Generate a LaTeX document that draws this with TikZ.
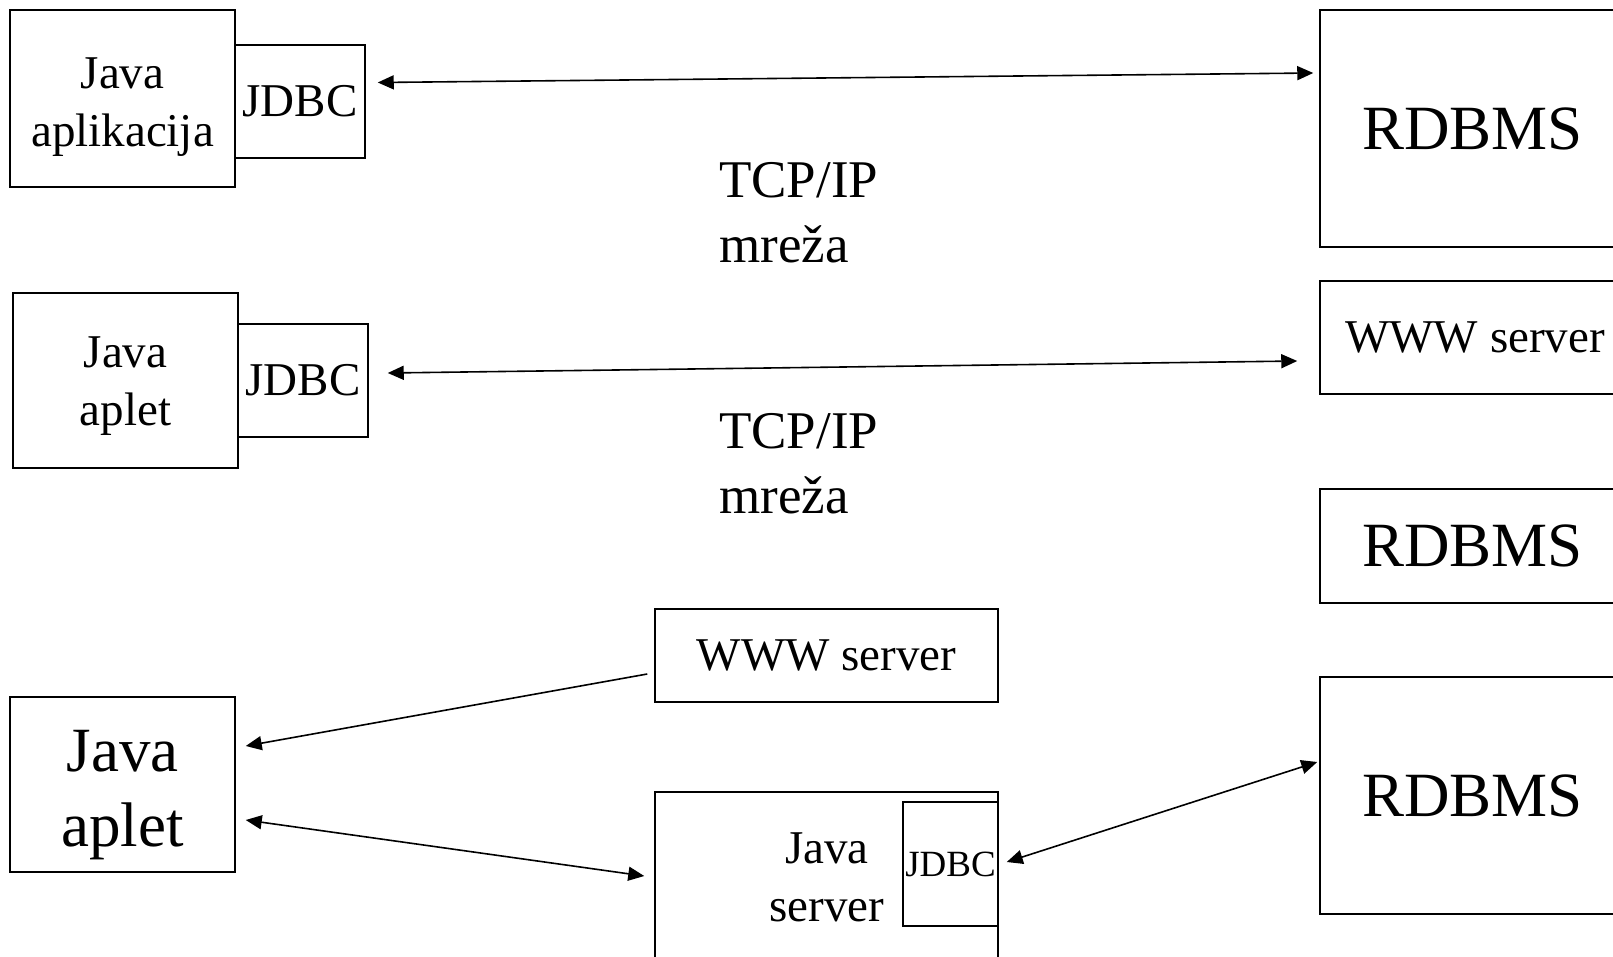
\documentclass[tikz,border=0pt]{standalone}
\usepackage{fontspec}
\setmainfont{Liberation Serif}
\usetikzlibrary{arrows.meta}
\tikzset{
  box/.style={draw, line width=1.5pt, rectangle, inner sep=0pt, align=center},
  fmid/.style={font=\fontsize{47}{58}\selectfont},
  fbig/.style={font=\fontsize{63}{75}\selectfont},
  fnet/.style={font=\fontsize{53}{65}\selectfont},
  fsmall/.style={font=\fontsize{37}{44}\selectfont},
  conn/.style={line width=1.6pt, {Triangle[length=16pt,width=14pt]}-{Triangle[length=16pt,width=14pt]}},
  connone/.style={line width=1.6pt, -{Triangle[length=16pt,width=14pt]}}
}
\begin{document}
\begin{tikzpicture}[x=1pt,y=-1pt]
\useasboundingbox (0,0) rectangle (1613,956);
\clip (0,0) rectangle (1613,956);
% row 1
\node[box,fmid,minimum width=225pt,minimum height=177pt] (app1) at (122.5,98.5) {\rule{0pt}{47pt}Java\\aplikacija};
\node[box,fmid,minimum width=130pt,minimum height=113pt] (jdbc1) at (300,101.5) {JDBC};
\node[box,fbig,minimum width=305pt,minimum height=237pt] (rdbms1) at (1472.5,128.5) {RDBMS};
\node[fnet,align=left,inner sep=0pt,anchor=west] (net1) at (719,213) {TCP/IP\\mreža};
% row 2
\node[box,fmid,minimum width=225pt,minimum height=175pt] (app2) at (125.5,380.5) {\rule{0pt}{41pt}Java\\aplet};
\node[box,fmid,minimum width=130pt,minimum height=113pt] (jdbc2) at (303,380.5) {JDBC};
\node[box,fmid,minimum width=310pt,minimum height=113pt] (www1) at (1475,337.5) {WWW server};
\node[box,fbig,minimum width=305pt,minimum height=114pt] (rdbms2) at (1472.5,546) {RDBMS};
\node[fnet,align=left,inner sep=0pt,anchor=west] (net2) at (719,464) {TCP/IP\\mreža};
% row 3
\node[box,fmid,minimum width=343pt,minimum height=93pt] (www2) at (826.5,655.5) {WWW server};
\node[box,fbig,minimum width=225pt,minimum height=175pt] (app3) at (122.5,784.5) {\rule{0pt}{62pt}Java\\aplet};
\node[box,minimum width=343pt,minimum height=208pt] (jserver) at (826.5,896) {};
\node[fmid,align=center,inner sep=0pt] (jservertext) at (827,877) {Java\\server};
\node[box,fsmall,minimum width=95pt,minimum height=124pt] (jdbc3) at (950.5,864) {JDBC};
\node[box,fbig,minimum width=305pt,minimum height=237pt] (rdbms3) at (1472.5,795.5) {RDBMS};
% connectors
\draw[conn] ([shift={(12,-19)}]jdbc1.east) -- ([shift={(-6,-55.5)}]rdbms1.west);
\draw[conn] ([shift={(19,-7.5)}]jdbc2.east) -- ([shift={(-22,23.5)}]www1.west);
\draw[connone] ([shift={(-7,18.5)}]www2.west) -- ([shift={(10,-38.5)}]app3.east);
\draw[conn] ([shift={(10,35.5)}]app3.east) -- ([shift={(-10,-20)}]jserver.west);
\draw[conn] ([shift={(8,-2)}]jdbc3.east) -- ([shift={(-2,-33.5)}]rdbms3.west);
\end{tikzpicture}
\end{document}
